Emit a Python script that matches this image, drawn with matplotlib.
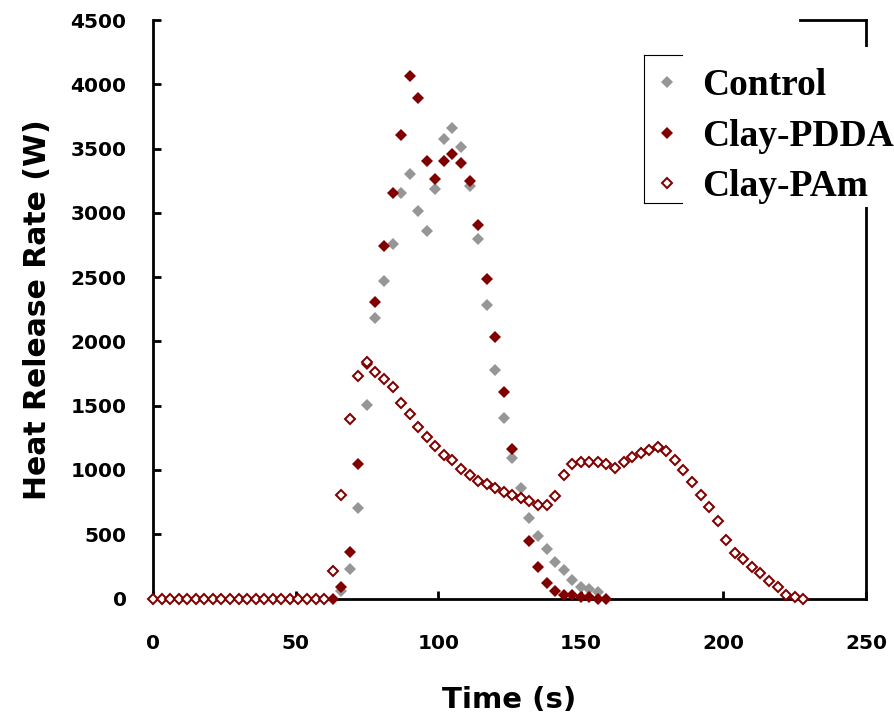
import matplotlib
matplotlib.use("Agg")
import matplotlib.pyplot as plt
from matplotlib.lines import Line2D
from matplotlib.patches import Rectangle

# ---------------- data ----------------
t_control = [66, 69, 72, 75, 78, 81, 84, 87, 90, 93, 96, 99, 102, 105, 108, 111,
             114, 117, 120, 123, 126, 129, 132, 135, 138, 141, 144, 147, 150, 153, 156]
hrr_control = [58, 232, 704, 1505, 2184, 2472, 2757, 3156, 3302, 3014, 2856, 3187,
               3574, 3662, 3514, 3211, 2796, 2280, 1777, 1406, 1090, 856, 630, 487,
               388, 285, 218, 147, 93, 77, 48]

t_pdda = [63, 66, 69, 72, 75, 78, 81, 84, 87, 90, 93, 96, 99, 102, 105, 108, 111,
          114, 117, 120, 123, 126, 129, 132, 135, 138, 141, 144, 147, 150, 153, 156, 159]
hrr_pdda = [0, 92, 359, 1044, 1824, 2308, 2742, 3156, 3603, 4062, 3890, 3403, 3260,
            3403, 3460, 3390, 3245, 2903, 2485, 2036, 1607, 1161, 780, 446, 243, 119,
            61, 27, 27, 14, 14, 0, 0]

t_pam = [0, 3, 6, 9, 12, 15, 18, 21, 24, 27, 30, 33, 36, 39, 42, 45, 48, 51, 54, 57, 60,
         63, 66, 69, 72, 75, 78, 81, 84, 87, 90, 93, 96, 99, 102, 105, 108, 111, 114,
         117, 120, 123, 126, 129, 132, 135, 138, 141, 144, 147, 150, 153, 156, 159,
         162, 165, 168, 171, 174, 177, 180, 183, 186, 189, 192, 195, 198, 201, 204,
         207, 210, 213, 216, 219, 222, 225, 228]
hrr_pam = [0, 0, 0, 0, 0, 0, 0, 0, 0, 0, 0, 0, 0, 0, 0, 0, 0, 0, 0, 0, 0,
           216, 807, 1394, 1733, 1837, 1764, 1705, 1643, 1523, 1433, 1332, 1258, 1188,
           1116, 1075, 1005, 958, 916, 888, 857, 828, 803, 779, 756, 730, 727, 801,
           959, 1045, 1062, 1062, 1062, 1046, 1018, 1062, 1101, 1129, 1157, 1181,
           1147, 1075, 1002, 906, 803, 714, 600, 455, 354, 305, 243, 200, 138, 87,
           30, 14, 0]

series_labels = ["Control", "Clay-PDDA", "Clay-PAm"]
x_ticks = [0, 50, 100, 150, 200, 250]
y_ticks = [0, 500, 1000, 1500, 2000, 2500, 3000, 3500, 4000, 4500]

GREY = "#969696"
DRED = "#800000"

# ---------------- figure ----------------
W, H = 895, 715
fig = plt.figure(figsize=(W / 100, H / 100), dpi=100)
ax = fig.add_axes([153 / W, (H - 598.5) / H, 713 / W, 578.5 / H])

ms_f, ms_h, mew_h = 6.1, 4.8, 1.45
ax.plot(t_control, hrr_control, ls="none", marker="D", ms=ms_f, mfc=GREY, mec=GREY,
        mew=0, clip_on=False, zorder=3)
ax.plot(t_pdda, hrr_pdda, ls="none", marker="D", ms=ms_f, mfc=DRED, mec=DRED,
        mew=0, clip_on=False, zorder=3)
ax.plot(t_pam, hrr_pam, ls="none", marker="D", ms=ms_h, mfc="white", mec=DRED,
        mew=mew_h, clip_on=False, zorder=3)

ax.set_xlim(0, 250)
ax.set_ylim(0, 4500)
ax.set_xticks(x_ticks)
ax.set_yticks(y_ticks)
ax.set_xticklabels([str(v) for v in x_ticks], fontweight="bold")
ax.set_yticklabels([str(v) for v in y_ticks], fontweight="bold")

for s in ax.spines.values():
    s.set_linewidth(2.0)
    s.set_color("black")
# only a short piece of the top border remains visible (upper right corner)
ax.spines["top"].set_bounds(227, 250)

ax.tick_params(axis="both", direction="in", length=5.8, width=2.0, labelsize=14.5,
               colors="black")
ax.tick_params(axis="x", pad=25.5)
ax.tick_params(axis="y", pad=19)

ax.set_xlabel("Time (s)", fontsize=21, fontweight="bold")
ax.set_ylabel("Heat Release Rate (W)", fontsize=21.5, fontweight="bold")
ax.xaxis.set_label_coords(0.5, -0.151)
ax.yaxis.set_label_coords(-0.141, 0.5)


def fx(px):
    return px / W


def fy(py):
    return 1 - py / H


# white area partly covering the right spine / legend frame (as in the original)
fig.add_artist(Rectangle((fx(682), fy(207)), fx(895) - fx(682), fy(47) - fy(207),
                         transform=fig.transFigure, fc="white", ec="none", zorder=1))
# partial legend frame
for xs, ys in [([644, 644], [55, 203]), ([644, 682], [55, 55]), ([644, 682], [203, 203])]:
    fig.add_artist(Line2D([fx(v) for v in xs], [fy(v) for v in ys],
                          transform=fig.transFigure, color="black", lw=0.8, zorder=2))

handles = [
    Line2D([], [], ls="none", marker="D", ms=ms_f, mfc=GREY, mec=GREY, mew=0),
    Line2D([], [], ls="none", marker="D", ms=ms_f, mfc=DRED, mec=DRED, mew=0),
    Line2D([], [], ls="none", marker="D", ms=ms_h, mfc="white", mec=DRED, mew=mew_h),
]
leg = fig.legend(handles, series_labels, loc="upper left",
                 bbox_to_anchor=(fx(650), fy(68)), bbox_transform=fig.transFigure,
                 frameon=False, borderpad=0, borderaxespad=0, handlelength=0.9,
                 handletextpad=0.5, labelspacing=0.42, numpoints=1,
                 prop={"family": "Liberation Serif", "weight": "bold", "size": 27})
leg.set_zorder(5)

fig.savefig("out.png", dpi=100)
